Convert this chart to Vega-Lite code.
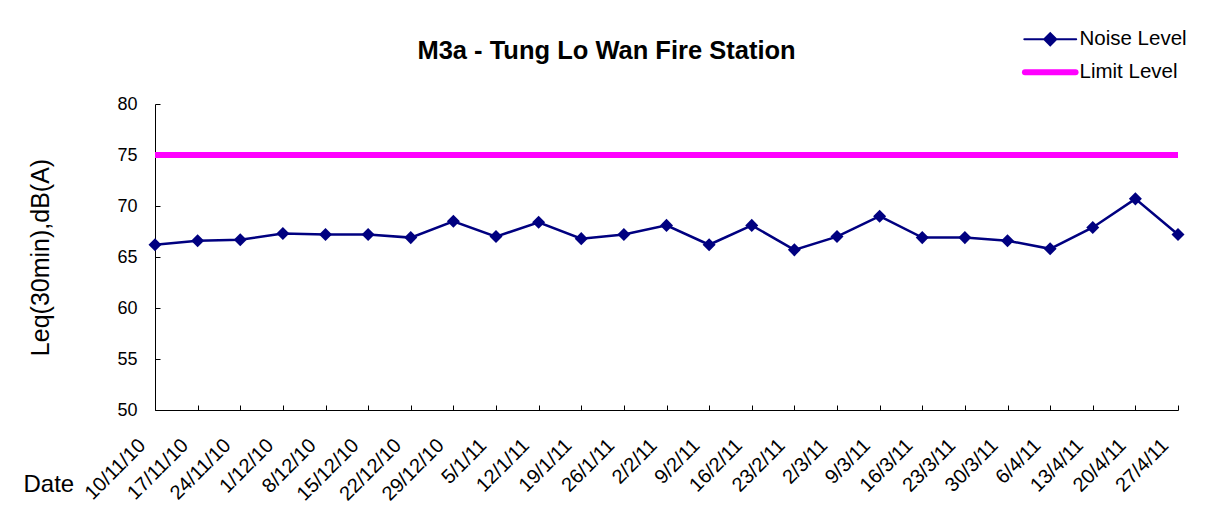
{
  "$schema": "https://vega.github.io/schema/vega-lite/v6.json",
  "width": 1023,
  "height": 306,
  "autosize": {"type": "none"},
  "padding": {"left": 155, "top": 104, "right": 28, "bottom": 101},
  "background": "white",
  "config": {
    "font": "Liberation Sans",
    "view": {"stroke": null},
    "axis": {"domainColor": "#000", "tickColor": "#000", "labelColor": "#000", "titleColor": "#000", "grid": false, "labelFont": "Liberation Sans", "titleFont": "Liberation Sans", "titleFontWeight": "normal"}
  },
  "title": {
    "text": "M3a - Tung Lo Wan Fire Station",
    "fontSize": 25.5,
    "fontWeight": "bold",
    "font": "Liberation Sans",
    "color": "#000",
    "anchor": "middle",
    "dx": -60,
    "baseline": "alphabetic",
    "offset": 0,
    "dy": 55
  },
  "data": {
    "values": [
      {"date": "10/11/10", "series": "Noise Level", "value": 66.2},
      {"date": "17/11/10", "series": "Noise Level", "value": 66.6},
      {"date": "24/11/10", "series": "Noise Level", "value": 66.7},
      {"date": "1/12/10", "series": "Noise Level", "value": 67.3},
      {"date": "8/12/10", "series": "Noise Level", "value": 67.2},
      {"date": "15/12/10", "series": "Noise Level", "value": 67.2},
      {"date": "22/12/10", "series": "Noise Level", "value": 66.9},
      {"date": "29/12/10", "series": "Noise Level", "value": 68.5},
      {"date": "5/1/11", "series": "Noise Level", "value": 67.0},
      {"date": "12/1/11", "series": "Noise Level", "value": 68.4},
      {"date": "19/1/11", "series": "Noise Level", "value": 66.8},
      {"date": "26/1/11", "series": "Noise Level", "value": 67.2},
      {"date": "2/2/11", "series": "Noise Level", "value": 68.1},
      {"date": "9/2/11", "series": "Noise Level", "value": 66.2},
      {"date": "16/2/11", "series": "Noise Level", "value": 68.1},
      {"date": "23/2/11", "series": "Noise Level", "value": 65.7},
      {"date": "2/3/11", "series": "Noise Level", "value": 67.0},
      {"date": "9/3/11", "series": "Noise Level", "value": 69.0},
      {"date": "16/3/11", "series": "Noise Level", "value": 66.9},
      {"date": "23/3/11", "series": "Noise Level", "value": 66.9},
      {"date": "30/3/11", "series": "Noise Level", "value": 66.6},
      {"date": "6/4/11", "series": "Noise Level", "value": 65.8},
      {"date": "13/4/11", "series": "Noise Level", "value": 67.9},
      {"date": "20/4/11", "series": "Noise Level", "value": 70.7},
      {"date": "27/4/11", "series": "Noise Level", "value": 67.2},
      {"date": "10/11/10", "series": "Limit Level", "value": 75},
      {"date": "17/11/10", "series": "Limit Level", "value": 75},
      {"date": "24/11/10", "series": "Limit Level", "value": 75},
      {"date": "1/12/10", "series": "Limit Level", "value": 75},
      {"date": "8/12/10", "series": "Limit Level", "value": 75},
      {"date": "15/12/10", "series": "Limit Level", "value": 75},
      {"date": "22/12/10", "series": "Limit Level", "value": 75},
      {"date": "29/12/10", "series": "Limit Level", "value": 75},
      {"date": "5/1/11", "series": "Limit Level", "value": 75},
      {"date": "12/1/11", "series": "Limit Level", "value": 75},
      {"date": "19/1/11", "series": "Limit Level", "value": 75},
      {"date": "26/1/11", "series": "Limit Level", "value": 75},
      {"date": "2/2/11", "series": "Limit Level", "value": 75},
      {"date": "9/2/11", "series": "Limit Level", "value": 75},
      {"date": "16/2/11", "series": "Limit Level", "value": 75},
      {"date": "23/2/11", "series": "Limit Level", "value": 75},
      {"date": "2/3/11", "series": "Limit Level", "value": 75},
      {"date": "9/3/11", "series": "Limit Level", "value": 75},
      {"date": "16/3/11", "series": "Limit Level", "value": 75},
      {"date": "23/3/11", "series": "Limit Level", "value": 75},
      {"date": "30/3/11", "series": "Limit Level", "value": 75},
      {"date": "6/4/11", "series": "Limit Level", "value": 75},
      {"date": "13/4/11", "series": "Limit Level", "value": 75},
      {"date": "20/4/11", "series": "Limit Level", "value": 75},
      {"date": "27/4/11", "series": "Limit Level", "value": 75}
    ]
  },
  "encoding": {
    "x": {
      "field": "date",
      "type": "nominal",
      "sort": null,
      "scale": {"type": "point", "padding": 0},
      "axis": {
        "title": "Date",
        "titleFontSize": 24,
        "titleX": -132,
        "titleY": 74,
        "titleAlign": "left",
        "titleBaseline": "middle",
        "titleAngle": 0,
        "labelAngle": -45,
        "labelAlign": "right",
        "labelBaseline": "middle",
        "labelFontSize": 20,
        "labelPadding": 37,
        "labelOffset": -13,
        "labelOverlap": false,
        "labelBound": false,
        "tickSize": -5
      }
    },
    "y": {
      "field": "value",
      "type": "quantitative",
      "scale": {"domain": [50, 80], "nice": false, "zero": false},
      "axis": {
        "title": "Leq(30min),dB(A)",
        "titleFontSize": 25,
        "titleX": -115,
        "titleY": 153,
        "titleAngle": -90,
        "titleAlign": "center",
        "titleBaseline": "middle",
        "values": [50, 55, 60, 65, 70, 75, 80],
        "labelFontSize": 18,
        "labelPadding": 23,
        "tickSize": -5
      }
    },
    "color": {
      "field": "series",
      "type": "nominal",
      "scale": {"domain": ["Noise Level", "Limit Level"], "range": ["#000080", "#FF00FF"]},
      "legend": {
        "title": null,
        "orient": "none",
        "legendX": 885,
        "legendY": -75,
        "padding": 0,
        "symbolSize": 484,
        "rowPadding": 10,
        "labelOffset": 19,
        "labelFontSize": 20.5,
        "labelFont": "Liberation Sans",
        "labelColor": "#000",
        "encode": {
          "symbols": {
            "update": {
              "shape": {"signal": "datum.value === 'Noise Level' ? 'M-2.36,0H2.36M0,-0.55L0.55,0L0,0.55L-0.55,0Z' : 'M-2.3,0H2.3'"},
              "stroke": {"signal": "datum.value === 'Noise Level' ? '#000080' : '#FF00FF'"},
              "fill": {"signal": "datum.value === 'Noise Level' ? '#000080' : 'transparent'"},
              "strokeWidth": {"signal": "datum.value === 'Noise Level' ? 2 : 6"},
              "strokeCap": {"value": "round"},
              "opacity": {"value": 1},
              "fillOpacity": {"value": 1}
            }
          }
        }
      }
    }
  },
  "layer": [
    {
      "transform": [{"filter": "datum.series === 'Limit Level'"}],
      "mark": {"type": "line", "strokeWidth": 6}
    },
    {
      "transform": [{"filter": "datum.series === 'Noise Level'"}],
      "mark": {"type": "line", "strokeWidth": 2.5}
    },
    {
      "transform": [{"filter": "datum.series === 'Noise Level'"}],
      "mark": {"type": "point", "shape": "diamond", "filled": true, "size": 170, "opacity": 1}
    }
  ]
}
